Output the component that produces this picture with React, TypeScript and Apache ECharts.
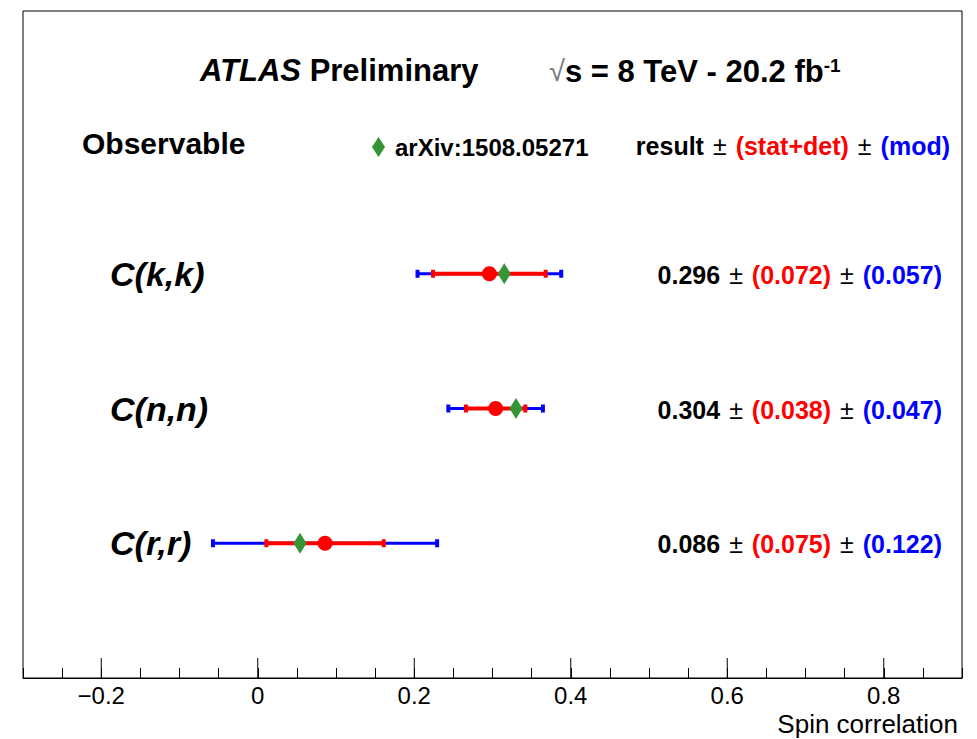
import React, { useEffect, useRef } from "react";
import * as echarts from "echarts";

const categories = ["C(k,k)", "C(n,n)", "C(r,r)"];
const rowPositions = [3, 2, 1];
const results = [0.296, 0.304, 0.086];
const statDet = [0.072, 0.038, 0.075];
const modErr = [0.057, 0.047, 0.122];
const arxivValues = [0.315, 0.33, 0.054];
const majorTicks = [-0.2, 0, 0.2, 0.4, 0.6, 0.8];
const xMin = -0.3;
const xMax = 0.9;

const FONT = "'Liberation Sans', Arial, Helvetica, sans-serif";
const RED = "#ff0000";
const BLUE = "#0000ff";
const GREEN = "#359435";

export default function App() {
  const ref = useRef<HTMLDivElement>(null);

  useEffect(() => {
    if (!ref.current) return;
    const chart = echarts.init(ref.current, null, { renderer: "svg" });

    const errData = results.map((v, i) => [v, rowPositions[i], statDet[i], modErr[i]]);
    const resData = results.map((v, i) => [v, rowPositions[i]]);
    const arxData = arxivValues.map((v, i) => [v, rowPositions[i]]);
    const labelData = results.map((v, i) => [xMin, rowPositions[i], i]);

    const valueRich = {
      v: { fontFamily: FONT, fontSize: 25, fontWeight: "bold", fill: "#000" },
      p: { fontFamily: FONT, fontSize: 25, fontWeight: "normal", fill: "#000", padding: [0, 9, 0, 9] },
      r: { fontFamily: FONT, fontSize: 25, fontWeight: "bold", fill: RED },
      b: { fontFamily: FONT, fontSize: 25, fontWeight: "bold", fill: BLUE },
    };
    const PM = "{p|\u00b1}";

    const option: any = {
      animation: false,
      backgroundColor: "#ffffff",
      grid: {
        left: 23,
        right: 15,
        top: 11,
        bottom: 61,
        show: true,
        borderColor: "#000",
        borderWidth: 1,
        backgroundColor: "transparent",
      },
      legend: {
        left: 372,
        top: 135,
        padding: 0,
        itemWidth: 13,
        itemHeight: 20,
        itemGap: 0,
        selectedMode: false,
        textStyle: {
          fontFamily: FONT,
          fontSize: 24,
          fontWeight: "bold",
          color: "#000",
          padding: [0, 0, 0, 5],
        },
        data: [{ name: "arXiv:1508.05271", icon: "diamond" }],
      },
      xAxis: {
        type: "value",
        min: xMin,
        max: xMax,
        interval: 0.05,
        axisLine: { show: true, lineStyle: { color: "#000", width: 1 } },
        axisTick: { show: true, inside: true, length: 10, lineStyle: { color: "#000", width: 1 } },
        splitLine: { show: false },
        axisLabel: {
          fontFamily: FONT,
          fontSize: 24,
          color: "#000",
          margin: 5,
          showMinLabel: true,
          showMaxLabel: true,
          formatter: (v: number) => {
            const k = Math.round(v / 0.2);
            if (Math.abs(k * 0.2 - v) > 1e-6) return "";
            const r = Math.round(v * 10) / 10;
            if (r === 0) return "0";
            return r < 0 ? "\u2212" + Math.abs(r).toString() : r.toString();
          },
        },
      },
      yAxis: {
        type: "value",
        min: 0,
        max: 4.95,
        show: false,
      },
      graphic: [
        {
          type: "text",
          x: 200,
          y: 70,
          style: {
            text: "{a|ATLAS}{b| Preliminary}",
            verticalAlign: "middle",
            align: "left",
            rich: {
              a: { fontFamily: FONT, fontSize: 31, fontWeight: "bold", fontStyle: "italic", fill: "#000" },
              b: { fontFamily: FONT, fontSize: 31, fontWeight: "bold", fill: "#000" },
            },
          },
        },
        {
          type: "text",
          x: 549,
          y: 71,
          style: {
            text: "{s|\u221a}{b|s = 8 TeV - 20.2 fb}{u|-1}",
            verticalAlign: "middle",
            align: "left",
            rich: {
              s: { fontFamily: FONT, fontSize: 29, fontWeight: "normal", fill: "#777" },
              b: { fontFamily: FONT, fontSize: 31, fontWeight: "bold", fill: "#000" },
              u: { fontFamily: FONT, fontSize: 19, fontWeight: "bold", fill: "#000", verticalAlign: "top" },
            },
          },
        },
        {
          type: "text",
          x: 82,
          y: 143,
          style: {
            text: "Observable",
            fontFamily: FONT,
            fontSize: 30,
            fontWeight: "bold",
            fill: "#000",
            verticalAlign: "middle",
            align: "left",
          },
        },
        {
          type: "text",
          x: 950,
          y: 146,
          style: {
            text: "{k|result}" + PM + "{r|(stat+det)}" + PM + "{b|(mod)}",
            verticalAlign: "middle",
            align: "right",
            rich: {
              k: { fontFamily: FONT, fontSize: 25, fontWeight: "bold", fill: "#000" },
              p: { fontFamily: FONT, fontSize: 25, fontWeight: "normal", fill: "#000", padding: [0, 9, 0, 9] },
              r: { fontFamily: FONT, fontSize: 25, fontWeight: "bold", fill: RED },
              b: { fontFamily: FONT, fontSize: 25, fontWeight: "bold", fill: BLUE },
            },
          },
        },
        {
          type: "text",
          x: 958,
          y: 724,
          style: {
            text: "Spin correlation",
            fontFamily: FONT,
            fontSize: 26,
            fill: "#000",
            verticalAlign: "middle",
            align: "right",
          },
        },
      ],
      series: [
        {
          type: "custom",
          name: "majorTicks",
          silent: true,
          z: 1,
          data: majorTicks.map((t) => [t, 0]),
          encode: { x: 0, y: 1 },
          renderItem: (params: any, api: any) => {
            const p = api.coord([api.value(0), 0]);
            return {
              type: "line",
              shape: { x1: p[0], y1: p[1], x2: p[0], y2: p[1] - 20 },
              style: { stroke: "#000", lineWidth: 1 },
            };
          },
        },
        {
          type: "custom",
          name: "errors",
          silent: true,
          z: 2,
          data: errData,
          encode: { x: 0, y: 1 },
          renderItem: (params: any, api: any) => {
            const v = api.value(0);
            const y = api.value(1);
            const s = api.value(2);
            const m = api.value(3);
            const tot = Math.sqrt(s * s + m * m);
            const bl = api.coord([v - tot, y]);
            const br = api.coord([v + tot, y]);
            const rl = api.coord([v - s, y]);
            const rr = api.coord([v + s, y]);
            const py = bl[1];
            return {
              type: "group",
              children: [
                { type: "line", shape: { x1: bl[0], y1: py, x2: br[0], y2: py }, style: { stroke: BLUE, lineWidth: 3 } },
                { type: "rect", shape: { x: bl[0] - 2, y: py - 4, width: 4, height: 8 }, style: { fill: BLUE } },
                { type: "rect", shape: { x: br[0] - 2, y: py - 4, width: 4, height: 8 }, style: { fill: BLUE } },
                { type: "line", shape: { x1: rl[0], y1: py, x2: rr[0], y2: py }, style: { stroke: RED, lineWidth: 4 } },
                { type: "rect", shape: { x: rl[0] - 2, y: py - 4, width: 4, height: 8 }, style: { fill: RED } },
                { type: "rect", shape: { x: rr[0] - 2, y: py - 4, width: 4, height: 8 }, style: { fill: RED } },
              ],
            };
          },
        },
        {
          type: "scatter",
          name: "result",
          z: 3,
          symbol: "circle",
          symbolSize: 15,
          itemStyle: { color: RED, opacity: 1 },
          data: resData,
        },
        {
          type: "scatter",
          name: "arXiv:1508.05271",
          z: 4,
          symbol: "diamond",
          symbolSize: [13, 21],
          itemStyle: { color: GREEN, opacity: 1 },
          data: arxData,
        },
        {
          type: "custom",
          name: "labels",
          silent: true,
          z: 5,
          data: labelData,
          encode: { x: 0, y: 1 },
          renderItem: (params: any, api: any) => {
            const i = api.value(2);
            const p = api.coord([xMin, api.value(1)]);
            const txt =
              "{v|" + results[i].toFixed(3) + "}" + PM + "{r|(" + statDet[i].toFixed(3) + ")}" + PM + "{b|(" +
              modErr[i].toFixed(3) + ")}";
            return {
              type: "group",
              children: [
                {
                  type: "text",
                  x: 110,
                  y: p[1],
                  style: {
                    text: categories[i],
                    fontFamily: FONT,
                    fontSize: 34,
                    fontWeight: "bold",
                    fontStyle: "italic",
                    fill: "#000",
                    align: "left",
                    verticalAlign: "middle",
                  },
                },
                {
                  type: "text",
                  x: 942,
                  y: p[1] + 1,
                  style: {
                    text: txt,
                    align: "right",
                    verticalAlign: "middle",
                    rich: valueRich,
                  },
                },
              ],
            };
          },
        },
      ],
    };

    chart.setOption(option);
    return () => {
      chart.dispose();
    };
  }, []);

  return (
    <div
      ref={ref}
      style={{ position: "fixed", left: 0, top: 0, width: 977, height: 739, background: "#fff" }}
    />
  );
}
